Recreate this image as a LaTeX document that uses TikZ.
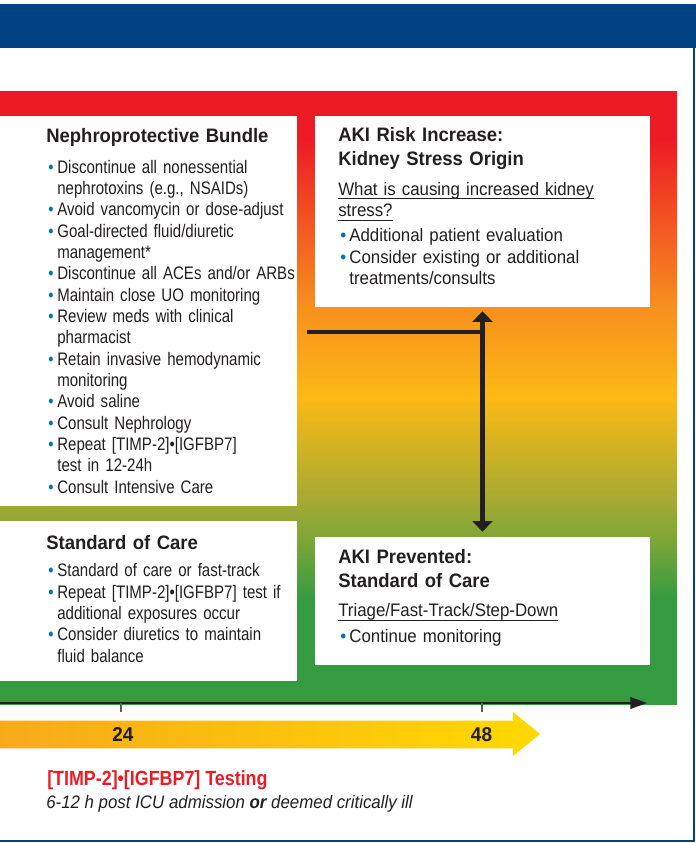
\documentclass[tikz,border=0pt]{standalone}
\usepackage{fontspec}
\setmainfont[FakeStretch=0.93]{Liberation Sans}
\newfontfamily\condfont[FakeStretch=0.83]{Liberation Sans}
\newfontfamily\headfont[FakeStretch=0.95]{Liberation Sans}
\newfontfamily\redfont[FakeStretch=0.87]{Liberation Sans}
\usetikzlibrary{arrows.meta,fit}
\definecolor{hblue}{RGB}{0,66,130}
\definecolor{tdark}{RGB}{35,31,32}
\definecolor{bblue}{RGB}{0,114,188}
\definecolor{ared}{RGB}{237,28,36}
\definecolor{aorange}{RGB}{247,143,30}
\definecolor{ayellow}{RGB}{252,185,21}
\definecolor{aolive}{RGB}{165,170,50}
\definecolor{aolivegreen}{RGB}{120,165,55}
\definecolor{agreen}{RGB}{52,155,65}
\definecolor{ylleft}{RGB}{248,170,28}
\definecolor{ylright}{RGB}{255,217,0}
\definecolor{tickgray}{RGB}{90,90,90}
\pgfdeclareverticalshading{akigrad}{100bp}{color(0bp)=(agreen); color(33.5bp)=(agreen); color(38bp)=(aolivegreen); color(41.6bp)=(aolive); color(50bp)=(ayellow); color(57.5bp)=(aorange); color(71bp)=(ared); color(100bp)=(ared)}
\newcommand\bitem[1]{\hangindent=6.8pt\hangafter=1\noindent\makebox[6.8pt][l]{\textcolor{bblue}{•}}#1\par}
\newcommand\ulx[1]{\leavevmode\setbox0=\hbox{#1}\rlap{\rule[-3pt]{\wd0}{0.75pt}}\box0}
\begin{document}
\begin{tikzpicture}[x=0.75pt,y=-0.75pt,
  wbox/.style={fill=white, draw=none, inner sep=0pt},
  ttl/.style={anchor=base west, inner sep=0pt, text=tdark, text width=230pt, align=left,
    font={\headfont\bfseries\fontsize{14.6pt}{18.2pt}\selectfont}},
  clist/.style={anchor=base west, inner sep=0pt, text=tdark, text width=230pt, align=left,
    font={\condfont\fontsize{13.6pt}{16pt}\selectfont}},
  rlist/.style={anchor=base west, inner sep=0pt, text=tdark, text width=240pt, align=left,
    font={\fontsize{13.6pt}{16pt}\selectfont}},
  rsub/.style={anchor=base west, inner sep=0pt, text=tdark, text width=240pt, align=left,
    font={\fontsize{13.6pt}{16.3pt}\selectfont}},
  bigline/.style={draw=tdark, line width=3.3pt},
  bigarrow/.style={draw=tdark, line width=3.3pt, {Triangle[width=15pt,length=8pt]}-{Triangle[width=15pt,length=8pt]}},
  axisline/.style={draw=tdark, line width=1.5pt, -{Triangle[width=8.7pt,length=12.5pt]}},
  tickline/.style={draw=tickgray, line width=0.8pt},
  hourlbl/.style={inner sep=0pt, text=tdark, font={\headfont\bfseries\fontsize{15pt}{18pt}\selectfont}}
]
\useasboundingbox (0,0) rectangle (696,843);
% header band and frame
\fill[hblue] (0,4) rectangle (696,48);
\draw[hblue, line width=1.5pt] (693.5,48) -- (693.5,841) -- (0,841);
% gradient risk field
\shade[shading=akigrad] (0,91) rectangle (677,704);
% white boxes
\node[wbox, fit={(0,116)(297,506)}] (lb1) {};
\node[wbox, fit={(0,521)(297,681)}] (lb2) {};
\node[wbox, fit={(315,116)(650,307)}] (rb1) {};
\node[wbox, fit={(315,537)(650,665)}] (rb2) {};
% left box 1
\node[ttl] (lb1t) at (46,142.3) {Nephroprotective Bundle};
\node[clist] (lb1l) at (48,173.3) {\bitem{Discontinue all nonessential\newline nephrotoxins (e.g., NSAIDs)}%
\bitem{Avoid vancomycin or dose-adjust}%
\bitem{Goal-directed fluid/diuretic\newline management*}%
\bitem{Discontinue all ACEs and/or ARBs}%
\bitem{Maintain close UO monitoring}%
\bitem{Review meds with clinical\newline pharmacist}%
\bitem{Retain invasive hemodynamic\newline monitoring}%
\bitem{Avoid saline}%
\bitem{Consult Nephrology}%
\bitem{Repeat [TIMP-2]•[IGFBP7]\newline test in 12-24h}%
\bitem{Consult Intensive Care}};
% left box 2
\node[ttl] (lb2t) at (46,549) {Standard of Care};
\node[clist] (lb2l) at (48,576.7) {\bitem{Standard of care or fast-track}%
\bitem{Repeat [TIMP-2]•[IGFBP7] test if\newline additional exposures occur}%
\bitem{Consider diuretics to maintain\newline fluid balance}};
% right box 1
\node[ttl] (rb1t) at (338,141.7) {AKI Risk Increase:\\Kidney Stress Origin};
\node[rsub] (rb1s) at (338,195) {\ulx{What is causing increased kidney}\\\ulx{stress?}};
\node[rlist] (rb1l) at (340,241.7) {\bitem{Additional patient evaluation}%
\bitem{Consider existing or additional\newline treatments/consults}};
% right box 2
\node[ttl] (rb2t) at (338,563.3) {AKI Prevented:\\Standard of Care};
\node[rsub] (rb2s) at (338,616.7) {\ulx{Triage/Fast-Track/Step-Down}};
\node[rlist] (rb2l) at (340,642.7) {\bitem{Continue monitoring}};
% connectors
\coordinate (hstart) at (307,332);
\draw[bigline] (hstart) -- (hstart -| rb1.south);
\draw[bigarrow, shorten <=3pt, shorten >=3.8pt] (rb1.south) -- (rb2.north);
% time axis
\coordinate (ax0) at (0,703);
\coordinate (ax1) at (647,703);
\draw[axisline] (ax0) -- (ax1);
\draw[tickline] (121,703) -- (121,712);
\draw[tickline] (482,703) -- (482,712);
% yellow time arrow
\path[left color=ylleft, right color=ylright] (0,720.7) -- (513,720.7) -- (513,712) -- (540,734) -- (513,756) -- (513,748.3) -- (0,748.3) -- cycle;
\node[hourlbl] (h24) at (123,735) {24};
\node[hourlbl] (h48) at (481.5,735) {48};
% testing note
\node[anchor=base west, inner sep=0pt, text=ared, font={\redfont\bfseries\fontsize{15.4pt}{18pt}\selectfont}] (test) at (47,785.7) {[TIMP-2]•[IGFBP7] Testing};
\node[anchor=base west, inner sep=0pt, text=tdark, font={\itshape\fontsize{13.6pt}{16pt}\selectfont}] (when) at (46,808.3) {6-12 h post ICU admission \textbf{or} deemed critically ill};
\end{tikzpicture}
\end{document}
